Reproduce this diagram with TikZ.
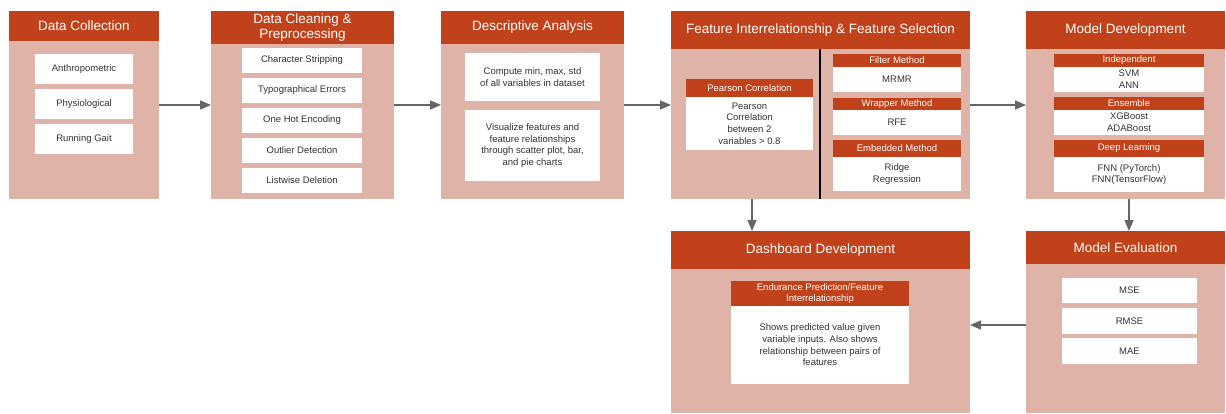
\documentclass[tikz,border=0pt]{standalone}
\usepackage{fontspec}
\setmainfont{Liberation Sans}
\usetikzlibrary{arrows.meta}
\definecolor{hdrred}{HTML}{C1411A}
\definecolor{pane}{HTML}{E0B3A8}
\definecolor{ink}{HTML}{333333}
\definecolor{arrowgrey}{HTML}{666666}
\tikzset{
  % a box given by its two corners (left, top, right, bottom)
  span/.style n args={4}{at={({(#1+#3)/2},{(#2+#4)/2})},
    minimum width={(#3-#1)*1pt}, minimum height={(#4-#2)*1pt}},
  stage/.style={fill=pane, draw=none, inner sep=0pt, outer sep=0pt},
  hdr/.style={fill=hdrred, text=white, inner sep=0pt, outer sep=0pt, align=center,
    font=\fontsize{13.5}{15}\selectfont},
  item/.style={fill=white, text=ink, inner sep=0pt, outer sep=0pt, align=center,
    font=\fontsize{9.5}{11.7}\selectfont},
  subhdr/.style={fill=hdrred, text=white, inner sep=0pt, outer sep=0pt, align=center,
    font=\fontsize{9.5}{11}\selectfont},
  arr/.style={draw=arrowgrey, line width=1.3pt, -{Triangle[length=11pt,width=9pt]}},
}
\begin{document}
\begin{tikzpicture}[x=1pt,y=-1pt]
\useasboundingbox (0,0) rectangle (1226,413);

% --- Data Collection
\node[stage, span={9}{11}{159}{199}] (collect) {};
\node[hdr, span={9}{11}{159}{41}] (collectH) {Data Collection};
\node[item, span={35}{54}{133}{84}] (anthro) {Anthropometric};
\node[item, span={35}{89}{133}{119}] (physio) {Physiological};
\node[item, span={35}{124}{133}{154}] (gait) {Running Gait};

% --- Data Cleaning & Preprocessing
\node[stage, span={211}{11}{394}{199}] (clean) {};
\node[hdr, span={211}{11}{394}{44}] (cleanH) {Data Cleaning \&\\Preprocessing};
\node[item, span={242}{48}{362}{73}] (strip) {Character Stripping};
\node[item, span={242}{78}{362}{103}] (typo) {Typographical Errors};
\node[item, span={242}{108}{362}{133}] (onehot) {One Hot Encoding};
\node[item, span={242}{138}{362}{163}] (outlier) {Outlier Detection};
\node[item, span={242}{168}{362}{193}] (listwise) {Listwise Deletion};

% --- Descriptive Analysis
\node[stage, span={441}{11}{624}{199}] (desc) {};
\node[hdr, span={441}{11}{624}{44}] (descH) {Descriptive Analysis};
\node[item, span={465}{53}{600}{101}] (stats) {Compute min, max, std\\of all variables in dataset};
\node[item, span={465}{110}{600}{181}] (visual) {Visualize features and\\feature relationships\\through scatter plot, bar,\\and pie charts};

% --- Feature Interrelationship & Feature Selection
\node[stage, span={671}{11}{970}{199}] (feat) {};
\node[hdr, span={671}{11}{970}{49}] (featH) {Feature Interrelationship \& Feature Selection};
\coordinate (divider) at (820,0);
\draw[black, line width=1.2pt] (featH.south -| divider) -- (feat.south -| divider);
\node[subhdr, span={686}{79}{813}{97}] (pearsonH) {Pearson Correlation};
\node[item, span={686}{97}{813}{150}] (pearson) {Pearson\\Correlation\\between 2\\variables > 0.8};
\node[subhdr, span={833}{54}{961}{67}] (filterH) {Filter Method};
\node[item, span={833}{67}{961}{92}] (filter) {MRMR};
\node[subhdr, span={833}{98}{961}{110}] (wrapperH) {Wrapper Method};
\node[item, span={833}{110}{961}{135}] (wrapper) {RFE};
\node[subhdr, span={833}{140}{961}{157}] (embedH) {Embedded Method};
\node[item, span={833}{157}{961}{191}] (embed) {Ridge\\Regression};

% --- Model Development
\node[stage, span={1026}{11}{1225}{199}] (model) {};
\node[hdr, span={1026}{11}{1225}{49}] (modelH) {Model Development};
\node[subhdr, span={1054}{54}{1204}{67}] (indepH) {Independent};
\node[item, span={1054}{67}{1204}{92}] (indep) {SVM\\ANN};
\node[subhdr, span={1054}{97}{1204}{110}] (ensH) {Ensemble};
\node[item, span={1054}{110}{1204}{135}] (ens) {XGBoost\\ADABoost};
\node[subhdr, span={1054}{140}{1204}{157}] (deepH) {Deep Learning};
\node[item, span={1054}{157}{1204}{192}] (deep) {FNN (PyTorch)\\FNN(TensorFlow)};

% --- Dashboard Development
\node[stage, span={671}{231}{970}{413}] (dash) {};
\node[hdr, span={671}{231}{970}{269}] (dashH) {Dashboard Development};
\node[subhdr, span={731}{281}{909}{306}] (endurH) {Endurance Prediction/Feature\\Interrelationship};
\node[item, span={731}{306}{909}{384}] (endur) {Shows predicted value given\\variable inputs. Also shows\\relationship between pairs of\\features};

% --- Model Evaluation
\node[stage, span={1026}{231}{1225}{413}] (eval) {};
\node[hdr, span={1026}{231}{1225}{264}] (evalH) {Model Evaluation};
\node[item, span={1062}{278}{1197}{303}] (mse) {MSE};
\node[item, span={1062}{308}{1197}{334}] (rmse) {RMSE};
\node[item, span={1062}{338}{1197}{364}] (mae) {MAE};

% --- Flow between stages
\coordinate (featdown) at (752,0);
\coordinate (modeldown) at (1129,0);
\coordinate (evalleft) at (0,325);
\draw[arr] (collect.east) -- (clean.west);
\draw[arr] (clean.east) -- (desc.west);
\draw[arr] (desc.east) -- (feat.west);
\draw[arr] (feat.east) -- (model.west);
\draw[arr] (feat.south -| featdown) -- (dash.north -| featdown);
\draw[arr] (model.south -| modeldown) -- (eval.north -| modeldown);
\draw[arr] (eval.west |- evalleft) -- (dash.east |- evalleft);
\end{tikzpicture}
\end{document}
